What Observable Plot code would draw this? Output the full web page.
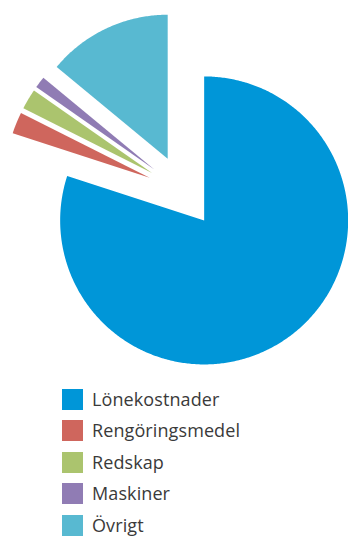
<!DOCTYPE html>
<html><head><meta charset="utf-8">
<script src="https://cdn.jsdelivr.net/npm/d3@7"></script>
<script src="https://cdn.jsdelivr.net/npm/@observablehq/plot@0.6"></script>
<style>
body{margin:0;background:#fff;font-family:"Open Sans",sans-serif;}
#legend{position:absolute;left:62px;top:383.5px;}
.row{display:flex;align-items:center;height:31.5px;}
.sw{width:21px;height:21px;margin-right:9px;flex:none}
.lb{font-size:18px;color:#3a3a3a;line-height:21px;letter-spacing:0.1px}
</style></head><body>
<div id="chart"></div>
<div id="legend"></div>
<script>
const categories = ["Lönekostnader","Rengöringsmedel","Redskap","Maskiner","Övrigt"];
const shares = [80.0, 2.4, 2.3, 1.3, 14.0];
const colors = ["#0096d8","#cf665d","#abc46e","#907cb4","#58b9d1"];

const W = 348, H = 380;
const R = 1, explode = 0.25, px = 144;
const cxPx = 182.5, cyPx = 190.8;
const total = d3.sum(shares);
const pts = [];
let a0 = 0;
categories.forEach((c, i) => {
  const a1 = a0 + shares[i] / total * 2 * Math.PI;
  const mid = (a0 + a1) / 2;
  const ox = explode * Math.sin(mid), oy = explode * Math.cos(mid);
  pts.push({c, x: ox, y: oy});
  const n = Math.max(2, Math.ceil((a1 - a0) / 0.01));
  for (let k = 0; k <= n; k++) {
    const a = a0 + (a1 - a0) * k / n;
    pts.push({c, x: ox + R * Math.sin(a), y: oy + R * Math.cos(a)});
  }
  pts.push({c, x: ox, y: oy});
  a0 = a1;
});

const plot = Plot.plot({
  width: W, height: H, margin: 0,
  x: {domain: [-cxPx / px, (W - cxPx) / px], axis: null},
  y: {domain: [-(H - cyPx) / px, cyPx / px], axis: null},
  color: {domain: categories, range: colors},
  marks: [
    Plot.line(pts, {x: "x", y: "y", z: "c", fill: "c", stroke: "none", curve: "linear"})
  ]
});
document.getElementById("chart").appendChild(plot);

const lg = document.getElementById("legend");
categories.forEach((c, i) => {
  const r = document.createElement("div"); r.className = "row";
  r.innerHTML = `<div class="sw" style="background:${colors[i]}"></div><div class="lb">${c}</div>`;
  lg.appendChild(r);
});
</script></body></html>
